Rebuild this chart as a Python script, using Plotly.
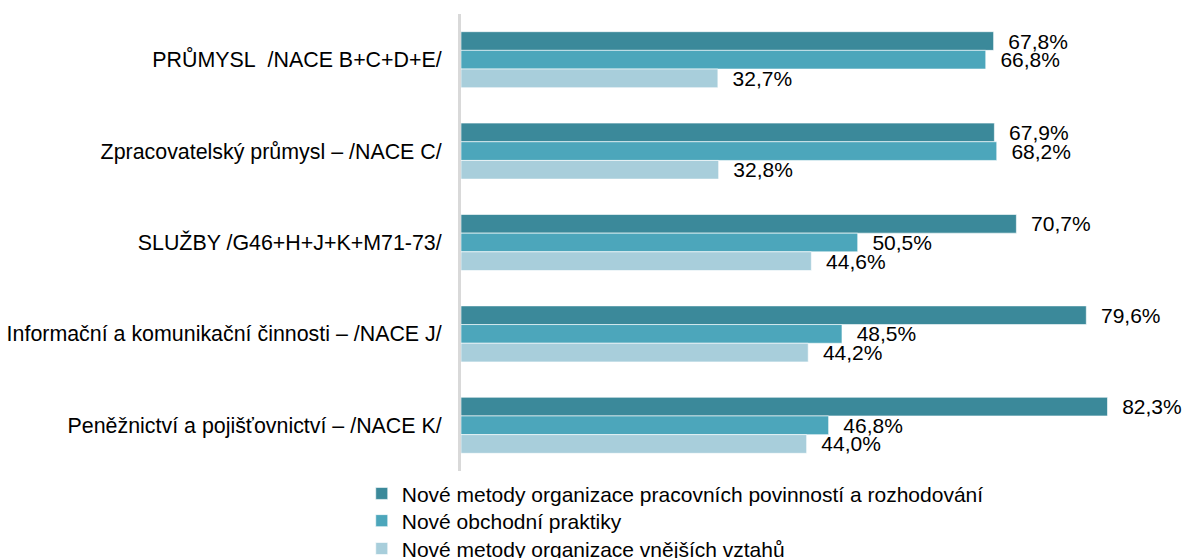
import plotly.graph_objects as go

categories = [
    "PRŮMYSL\u00a0 /NACE B+C+D+E/",
    "Zpracovatelský průmysl – /NACE C/",
    "SLUŽBY /G46+H+J+K+M71-73/",
    "Informační a komunikační činnosti – /NACE J/",
    "Peněžnictví a pojišťovnictví – /NACE K/",
]
series_names = [
    "Nové metody organizace pracovních povinností a rozhodování",
    "Nové obchodní praktiky",
    "Nové metody organizace vnějších vztahů",
]
org_work = [67.8, 67.9, 70.7, 79.6, 82.3]
business = [66.8, 68.2, 50.5, 48.5, 46.8]
external = [32.7, 32.8, 44.6, 44.2, 44.0]

colors = ["#3b899a", "#4ca6bb", "#a8cedb"]
font_family = "Arial, Liberation Sans, sans-serif"
legend_ids = ["legend", "legend2", "legend3"]
legend_y = [-0.0050, -0.0645, -0.1255]  # one legend per entry -> tighter rows


def label(v):
    # decimal comma like the original, small lead-in gap from the bar end
    return "\u00a0\u00a0" + f"{v:.1f}%".replace(".", ",")


fig = go.Figure()
for name, vals, col, lg in zip(series_names, [org_work, business, external], colors, legend_ids):
    fig.add_trace(go.Bar(
        y=categories,
        x=vals,
        name=name,
        legend=lg,
        showlegend=True,
        orientation="h",
        marker_color=col,
        marker_line_color="white",
        marker_line_width=0.6,
        text=[label(v) for v in vals],
        textposition="outside",
        constraintext="none",
        cliponaxis=False,
        textfont={"color": "#000000", "size": 21, "family": font_family},
    ))

legend_style = {
    "orientation": "v",
    "x": -0.1404,
    "xanchor": "left",
    "yanchor": "top",
    "font": {"size": 21, "color": "#000000", "family": font_family},
    "bgcolor": "rgba(0,0,0,0)",
}

fig.update_layout(
    showlegend=True,
    barmode="group",
    bargap=0.387,
    bargroupgap=0,
    width=1186,
    height=558,
    margin=dict(l=461, r=17.5, t=14, b=87.4, autoexpand=False),
    paper_bgcolor="white",
    plot_bgcolor="white",
    font={"color": "#000000", "family": font_family, "size": 21},
    xaxis={
        "range": [0, 90],
        "showgrid": False,
        "zeroline": False,
        "showticklabels": False,
        "showline": False,
    },
    yaxis={
        "autorange": "reversed",
        "showgrid": False,
        "showline": True,
        "linecolor": "#d9d9d9",
        "linewidth": 3,
        "ticks": "",
        "ticklabelstandoff": 12,
        "tickfont": {"size": 21.4, "color": "#000000"},
    },
    legend=dict(legend_style, y=legend_y[0]),
    legend2=dict(legend_style, y=legend_y[1]),
    legend3=dict(legend_style, y=legend_y[2]),
)

# drop the default 8px page margin so the figure fills the window
fig.write_html(
    "out.html",
    config={"displayModeBar": False},
    post_script="document.body.style.margin='0';",
)
